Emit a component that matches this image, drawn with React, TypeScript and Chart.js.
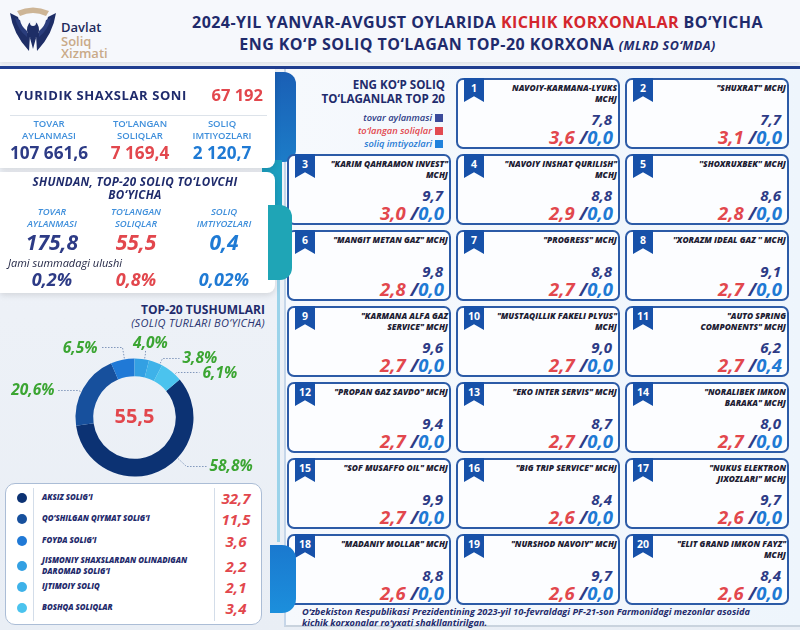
import React, { useEffect, useRef } from "react";
import { Chart, registerables } from "chart.js";

Chart.register(...registerables);

// ---------------- data ----------------
const legalEntitiesCount = 67192;
const summaryLabels = ["TOVAR\nAYLANMASI", "TO‘LANGAN\nSOLIQLAR", "SOLIQ\nIMTIYOZLARI"];
const allTotals = [107661.6, 7169.4, 2120.7];
const top20Totals = [175.8, 55.5, 0.4];
const top20SharePct = [0.2, 0.8, 0.02];

const taxTypeLabels = [
  "AKSIZ SOLIG‘I",
  "QO‘SHILGAN QIYMAT SOLIG‘I",
  "FOYDA SOLIG‘I",
  "JISMONIY SHAXSLARDAN OLINADIGAN\nDAROMAD SOLIG‘I",
  "IJTIMOIY SOLIQ",
  "BOSHQA SOLIQLAR",
];
const taxTypeValues = [32.7, 11.5, 3.6, 2.2, 2.1, 3.4];
const taxTypeShares = [58.8, 20.6, 6.5, 4.0, 3.8, 6.1];

const companyNames = [
  "NAVOIY-KARMANA-LYUKS\nMCHJ",
  "\"SHUXRAT\" MCHJ",
  "\"KARIM QAHRAMON INVEST\"\nMCHJ",
  "\"NAVOIY INSHAT QURILISH\"\nMCHJ",
  "''SHOXRUXBEK'' MCHJ",
  "\"MANGIT METAN GAZ\" MCHJ",
  "\"PROGRESS\" MCHJ",
  "''XORAZM IDEAL GAZ '' MCHJ",
  "\"KARMANA ALFA GAZ\nSERVICE\" MCHJ",
  "\"MUSTAQILLIK FAKELI PLYUS\"\nMCHJ",
  "\"AUTO SPRING\nCOMPONENTS\" MCHJ",
  "\"PROPAN GAZ SAVDO\" MCHJ",
  "\"EKO INTER SERVIS\" MCHJ",
  "\"NORALIBEK IMKON\nBARAKA\" MCHJ",
  "\"SOF MUSAFFO OIL\" MCHJ",
  "\"BIG TRIP SERVICE\" MCHJ",
  "\"NUKUS ELEKTRON\nJIXOZLARI\" MCHJ",
  "\"MADANIY MOLLAR\" MCHJ",
  "\"NURSHOD NAVOIY\" MCHJ",
  "\"ELIT GRAND IMKON FAYZ\"\nMCHJ",
];
const companyTurnover = [7.8, 7.7, 9.7, 8.8, 8.6, 9.8, 8.8, 9.1, 9.6, 9.0, 6.2, 9.4, 8.7, 8.0, 9.9, 8.4, 9.7, 8.8, 9.7, 8.4];
const companyTaxes = [3.6, 3.1, 3.0, 2.9, 2.8, 2.8, 2.7, 2.7, 2.7, 2.7, 2.7, 2.7, 2.7, 2.7, 2.7, 2.6, 2.6, 2.6, 2.6, 2.6];
const companyBenefits = [0, 0, 0, 0, 0, 0, 0, 0, 0, 0, 0.4, 0, 0, 0, 0, 0, 0, 0, 0, 0];

// ---------------- style ----------------
const FONT = "'Open Sans', 'Noto Sans', sans-serif";
const NAVY = "#1f2b6c";
const VAL_NAVY = "#2d3b86";
const RED = "#e2474d";
const BLUE = "#1f7ad4";
const LIGHT_BLUE = "#3f8fdb";
const GREEN = "#3ba532";
const taxColors = ["#0c3273", "#17509d", "#2079d6", "#33a0e3", "#3eb2e9", "#4bc3ee"];

// label layout relative to the donut centre (text pos, elbow, line end)
const donutLabelLayout = [
  { tx: 75, ty: 49, align: "left", ex: 52, ey: 49, lx: 72, ly: 49 },
  { tx: -80, ty: -27, align: "right", ex: -56, ey: -27, lx: -77, ly: -27 },
  { tx: -37, ty: -69, align: "right", ex: -12, ey: -70, lx: -34, ly: -70 },
  { tx: 16, ty: -74, align: "center", ex: 11, ey: -64, lx: 11, ly: -67 },
  { tx: 48, ty: -59, align: "left", ex: 28, ey: -59, lx: 45, ly: -59 },
  { tx: 68, ty: -44, align: "left", ex: 42, ey: -45, lx: 65, ly: -45 },
];

const fmt1 = (v: number) => {
  const [i, d] = v.toFixed(1).split(".");
  return i.replace(/\B(?=(\d{3})+(?!\d))/g, " ") + "," + d;
};
const fmtInt = (v: number) => String(Math.round(v)).replace(/\B(?=(\d{3})+(?!\d))/g, " ");
const fmtPct = (v: number) => String(v).replace(".", ",") + "%";
const fmtPct1 = (v: number) => v.toFixed(1).replace(".", ",") + "%";

const donutPlugin = {
  id: "donutLabels",
  afterDatasetsDraw(chart: any) {
    const ctx = chart.ctx;
    const meta = chart.getDatasetMeta(0);
    const total = taxTypeValues.reduce((a, b) => a + b, 0);
    let cx = 0, cy = 0;
    meta.data.forEach((arc: any, i: number) => {
      const p = arc.getProps(["x", "y", "startAngle", "endAngle", "outerRadius"], true);
      cx = p.x; cy = p.y;
      const lay = donutLabelLayout[i];
      const ex = p.x + lay.ex, ey = p.y + lay.ey;
      let th = Math.atan2(ey - p.y, ex - p.x);
      while (th < p.startAngle) th += Math.PI * 2;
      while (th > p.startAngle + Math.PI * 2) th -= Math.PI * 2;
      if (th > p.endAngle) {
        const dEnd = th - p.endAngle;
        const dStart = p.startAngle + Math.PI * 2 - th;
        th = dEnd < dStart ? p.endAngle - 0.05 : p.startAngle + 0.05;
      }
      const px = p.x + (p.outerRadius + 1) * Math.cos(th);
      const py = p.y + (p.outerRadius + 1) * Math.sin(th);
      ctx.save();
      ctx.setLineDash([1.5, 1.5]);
      ctx.strokeStyle = "#8197bb";
      ctx.lineWidth = 1;
      ctx.beginPath();
      ctx.moveTo(px, py);
      ctx.lineTo(ex, ey);
      ctx.lineTo(p.x + lay.lx, p.y + lay.ly);
      ctx.stroke();
      ctx.restore();
      ctx.save();
      ctx.font = `italic 700 15.5px ${FONT}`;
      ctx.fillStyle = GREEN;
      ctx.textAlign = lay.align;
      ctx.textBaseline = "middle";
      ctx.fillText(fmtPct1(taxTypeShares[i]), p.x + lay.tx, p.y + lay.ty);
      ctx.restore();
    });
    ctx.save();
    ctx.font = `700 20px ${FONT}`;
    ctx.fillStyle = RED;
    ctx.textAlign = "center";
    ctx.textBaseline = "middle";
    ctx.fillText(fmt1(total), cx, cy);
    ctx.restore();
  },
};

function Donut() {
  const ref = useRef<HTMLCanvasElement>(null);
  useEffect(() => {
    const total = taxTypeValues.reduce((a, b) => a + b, 0);
    const tail = taxTypeValues.slice(3).reduce((a, b) => a + b, 0);
    const chart = new Chart(ref.current as HTMLCanvasElement, {
      type: "doughnut",
      data: {
        labels: taxTypeLabels,
        datasets: [{ data: taxTypeValues, backgroundColor: taxColors, borderWidth: 0 }],
      },
      options: {
        responsive: false,
        animation: false,
        rotation: (tail / total) * 360,
        cutout: "70%",
        layout: { padding: { left: 75.5, right: 81.5, top: 28.5, bottom: 5.5 } },
        plugins: { legend: { display: false }, tooltip: { enabled: false }, title: { display: false } },
      },
      plugins: [donutPlugin],
    } as any);
    return () => chart.destroy();
  }, []);
  return <canvas ref={ref} width={275} height={152} style={{ position: "absolute", left: 0, top: 330 }} />;
}

const abs = (left: number, top: number, extra: any = {}) => ({ position: "absolute" as const, left, top, ...extra });

function Card({ i }: { i: number }) {
  const slot = i + 1;
  const row = Math.floor(slot / 3);
  const col = slot % 3;
  const left = [287, 456, 625][col];
  const top = 78 + row * 76;
  return (
    <div
      style={abs(left, top, {
        width: 164,
        height: 71,
        boxSizing: "border-box",
        border: "2px solid #2c5ba7",
        borderRadius: 7,
        background: "#fcfdff",
        zIndex: 2,
      })}
    >
      <div
        style={abs(6, -2, {
          width: 20,
          height: 24,
          background: "#1751a9",
          clipPath: "polygon(0 0,100% 0,100% 100%,50% 76%,0 100%)",
          color: "#fff",
          fontWeight: 700,
          fontSize: 10.5,
          textAlign: "center",
          lineHeight: "20px",
        })}
      >
        {slot}
      </div>
      <div
        style={{
          position: "absolute",
          right: 1,
          top: 2,
          width: 132,
          textAlign: "right",
          fontSize: 8.4,
          fontWeight: 800,
          fontStyle: "italic",
          lineHeight: "11px",
          whiteSpace: "pre-line",
          color: "#1c2033",
        }}
      >
        {companyNames[i]}
      </div>
      <div
        style={{
          position: "absolute",
          right: 6,
          bottom: 21,
          fontSize: 15,
          fontWeight: 700,
          fontStyle: "italic",
          lineHeight: "14px",
          color: VAL_NAVY,
        }}
      >
        {fmt1(companyTurnover[i])}
      </div>
      <div
        style={{
          position: "absolute",
          right: 5,
          bottom: 2,
          fontSize: 18.5,
          fontWeight: 700,
          fontStyle: "italic",
          lineHeight: "17px",
          whiteSpace: "nowrap",
        }}
      >
        <span style={{ color: RED }}>{fmt1(companyTaxes[i])}</span>
        <span style={{ color: VAL_NAVY }}> /</span>
        <span style={{ color: BLUE }}>{fmt1(companyBenefits[i])}</span>
      </div>
    </div>
  );
}

function Logo() {
  return (
    <svg width="50" height="50" viewBox="0 0 50 50" style={abs(8, 4)}>
      <path d="M9 7 Q25 0 41 7 L38 12 Q25 6 12 12 Z" fill="#cdb596" />
      <path d="M2 9 Q5 30 21 47 L22 31 Q12 24 10 13 Z" fill="#1e2e66" />
      <path d="M48 9 Q45 30 29 47 L28 31 Q38 24 40 13 Z" fill="#1e2e66" />
      <path d="M7 14 Q10 26 19 33 L19 27 Q13 22 12 16 Z" fill="#2a3d7c" />
      <path d="M43 14 Q40 26 31 33 L31 27 Q37 22 38 16 Z" fill="#2a3d7c" />
      <ellipse cx="25" cy="26" rx="6" ry="9" fill="#1e2e66" />
      <circle cx="25" cy="19" r="3" fill="#f5f7fb" />
      <path d="M22 34 L25 45 L28 34 Z" fill="#1e2e66" />
    </svg>
  );
}

export default function App() {
  const colCentersTop = [49, 140, 222];
  const colCentersMid = [52, 136, 224];
  const valColors = [VAL_NAVY, RED, BLUE];
  return (
    <div
      style={{
        position: "relative",
        width: 800,
        height: 630,
        overflow: "hidden",
        background: "linear-gradient(180deg,#f1f4f9,#e9eef5)",
        fontFamily: FONT,
      }}
    >
      <style>{`body{margin:0}`}</style>
      {/* header */}
      <div style={abs(0, 0, { width: 800, height: 62, background: "#f6f8fc", boxShadow: "0 2px 4px rgba(0,0,0,0.08)" })} />
      <Logo />
      <div style={abs(61, 21, { fontSize: 13, fontWeight: 600, color: "#1e2b5c", lineHeight: "13px" })}>Davlat</div>
      <div style={abs(61, 35, { fontSize: 13, fontWeight: 600, color: "#c9aa88", lineHeight: "12px" })}>Soliq</div>
      <div style={abs(61, 47, { fontSize: 13, fontWeight: 600, color: "#c9aa88", lineHeight: "13px" })}>Xizmati</div>
      <div
        style={abs(170, 11, {
          width: 615,
          textAlign: "center",
          fontSize: 16,
          letterSpacing: "0.45px",
          fontWeight: 700,
          color: NAVY,
          lineHeight: "22px",
          whiteSpace: "nowrap",
        })}
      >
        <div>
          2024-YIL YANVAR-AVGUST OYLARIDA <span style={{ color: "#d4262d" }}>KICHIK KORXONALAR</span> BO‘YICHA
        </div>
        <div>
          ENG KO‘P SOLIQ TO‘LAGAN TOP-20 KORXONA{" "}
          <span style={{ fontStyle: "italic", fontSize: 12.5 }}>(MLRD SO‘MDA)</span>
        </div>
      </div>

      {/* right panel */}
      <div
        style={abs(284, 68, {
          width: 516,
          height: 559,
          background: "linear-gradient(90deg,#f6f9fd,#eef5fc)",
          borderLeft: "2px solid #c6d6e9",
          borderBottom: "2px solid #c9d3de",
          boxSizing: "border-box",
        })}
      />
      <div style={abs(0, 66, { width: 800, height: 3, background: "#1f3d8f", zIndex: 3 })} />
      {/* decorative tabs */}
      <div style={abs(262, 72, { width: 34, height: 90, background: "linear-gradient(180deg,#1a5fb5,#1c7cc8)", borderRadius: "0 12px 12px 0", zIndex: 1 })} />
      <div style={abs(262, 160, { width: 20, height: 48, background: "#1c9fbf", zIndex: 1 })} />
      <div style={abs(268, 205, { width: 24, height: 75, background: "#1fa5b6", borderRadius: "0 12px 12px 0", zIndex: 3 })} />
      <div style={abs(277, 280, { width: 3, height: 262, background: "#9bd3ea", zIndex: 1 })} />
      <div style={abs(270, 545, { width: 26, height: 68, background: "linear-gradient(180deg,#1a79cf,#1c8fdc)", borderRadius: "0 14px 14px 0", zIndex: 3 })} />

      {/* right panel header & legend */}
      <div style={abs(290, 78, { width: 155, textAlign: "right", fontSize: 11.6, fontWeight: 700, color: NAVY, lineHeight: "14px", zIndex: 2 })}>
        ENG KO‘P SOLIQ
        <br />
        TO‘LAGANLAR TOP 20
      </div>
      {[
        ["tovar aylanmasi", VAL_NAVY, "#3a4a9a"],
        ["to‘langan soliqlar", RED, "#e24a50"],
        ["soliq imtiyozlari", BLUE, "#1f82dc"],
      ].map(([t, c, sq], k) => (
        <div key={k} style={abs(310, 112 + k * 13, { width: 134, height: 12, zIndex: 2 })}>
          <div
            style={{
              position: "absolute",
              right: 12,
              top: 0,
              fontSize: 9.3,
              fontStyle: "italic",
              fontWeight: 600,
              color: c,
              lineHeight: "12px",
              whiteSpace: "nowrap",
            }}
          >
            {t}
          </div>
          <div style={{ position: "absolute", right: 1, top: 2, width: 8, height: 8, background: sq }} />
        </div>
      ))}

      {companyNames.map((_, i) => (
        <Card key={i} i={i} />
      ))}

      <div
        style={abs(302, 607, {
          fontSize: 9.2,
          fontStyle: "italic",
          fontWeight: 700,
          color: NAVY,
          lineHeight: "10.5px",
          whiteSpace: "nowrap",
          zIndex: 2,
        })}
      >
        O‘zbekiston Respublikasi Prezidentining 2023-yil 10-fevraldagi PF-21-son Farmonidagi mezonlar asosida
        <br />
        kichik korxonalar ro‘yxati shakllantirilgan.
      </div>

      {/* left card 1 */}
      <div
        style={abs(0, 68, {
          width: 275,
          height: 100,
          background: "#ffffff",
          borderRadius: "0 0 8px 0",
          boxShadow: "0 2px 6px rgba(0,0,0,0.12)",
          zIndex: 2,
        })}
      >
        <div style={abs(15, 19, { fontSize: 13, letterSpacing: "0.6px", fontWeight: 700, color: NAVY, lineHeight: "16px", whiteSpace: "nowrap" })}>
          YURIDIK SHAXSLAR SONI
        </div>
        <div style={abs(200, 17, { width: 63, textAlign: "right", fontSize: 16.5, fontWeight: 700, color: RED, lineHeight: "20px" })}>
          {fmtInt(legalEntitiesCount)}
        </div>
        <div style={abs(10, 47, { width: 257, height: 1, background: "#dde3ea" })} />
        {summaryLabels.map((l, k) => (
          <div
            key={k}
            style={abs(colCentersTop[k] - 50, 50, {
              width: 100,
              textAlign: "center",
              fontSize: 9.5,
              fontWeight: 600,
              color: LIGHT_BLUE,
              lineHeight: "12px",
              whiteSpace: "pre-line",
            })}
          >
            {l}
          </div>
        ))}
        {allTotals.map((v, k) => (
          <div
            key={k}
            style={abs(colCentersTop[k] - 60, 74, {
              width: 120,
              textAlign: "center",
              fontSize: 17.2,
              fontWeight: 700,
              color: valColors[k],
              lineHeight: "22px",
            })}
          >
            {fmt1(v)}
          </div>
        ))}
      </div>

      {/* left card 2 */}
      <div
        style={abs(0, 172, {
          width: 275,
          height: 121,
          background: "#ffffff",
          borderRadius: "0 8px 8px 0",
          boxShadow: "0 2px 6px rgba(0,0,0,0.12)",
          zIndex: 2,
        })}
      >
        <div
          style={abs(0, 3, {
            width: 270,
            textAlign: "center",
            fontSize: 11.6,
            letterSpacing: "0.3px",
            fontWeight: 700,
            fontStyle: "italic",
            color: NAVY,
            lineHeight: "13px",
            whiteSpace: "nowrap",
          })}
        >
          SHUNDAN, TOP-20 SOLIQ TO‘LOVCHI
          <br />
          BO‘YICHA
        </div>
        {summaryLabels.map((l, k) => (
          <div
            key={k}
            style={abs(colCentersMid[k] - 50, 34, {
              width: 100,
              textAlign: "center",
              fontSize: 9.5,
              fontWeight: 600,
              fontStyle: "italic",
              color: LIGHT_BLUE,
              lineHeight: "11.5px",
              whiteSpace: "pre-line",
            })}
          >
            {l}
          </div>
        ))}
        {top20Totals.map((v, k) => (
          <div
            key={k}
            style={abs(colCentersMid[k] - 50, 58, {
              width: 100,
              textAlign: "center",
              fontSize: 21,
              fontWeight: 700,
              fontStyle: "italic",
              color: valColors[k],
              lineHeight: "24px",
            })}
          >
            {fmt1(v)}
          </div>
        ))}
        <div style={abs(8, 84, { fontSize: 11, fontStyle: "italic", color: "#1d2140", lineHeight: "13px", whiteSpace: "nowrap" })}>
          Jami summadagi ulushi
        </div>
        {top20SharePct.map((v, k) => (
          <div
            key={k}
            style={abs(colCentersMid[k] - 50, 97, {
              width: 100,
              textAlign: "center",
              fontSize: 18,
              fontWeight: 700,
              fontStyle: "italic",
              color: valColors[k],
              lineHeight: "20px",
            })}
          >
            {fmtPct(v)}
          </div>
        ))}
      </div>

      {/* donut block */}
      <div style={abs(90, 303, { width: 175, textAlign: "right", fontSize: 12, fontWeight: 700, color: NAVY, lineHeight: "14px", whiteSpace: "nowrap" })}>
        TOP-20 TUSHUMLARI
      </div>
      <div
        style={abs(90, 317, {
          width: 175,
          textAlign: "right",
          fontSize: 11,
          letterSpacing: "0.3px",
          fontStyle: "italic",
          color: "#2a3470",
          lineHeight: "12px",
          whiteSpace: "nowrap",
        })}
      >
        (SOLIQ TURLARI BO‘YICHA)
      </div>
      <Donut />

      {/* legend box */}
      <div
        style={abs(5, 483, {
          width: 257,
          height: 142,
          boxSizing: "border-box",
          border: "1.5px solid #abbdd6",
          borderRadius: 10,
          background: "#ffffff",
        })}
      />
      <div style={abs(33, 488, { width: 1, height: 133, background: "#d3dde9" })} />
      <div style={abs(214, 488, { width: 1, height: 133, background: "#d3dde9" })} />
      {taxTypeLabels.map((l, k) => {
        const cy = [498, 519, 541, 566, 587, 608][k];
        return (
          <React.Fragment key={k}>
            <div style={abs(17, cy - 5, { width: 10, height: 10, borderRadius: 5, background: taxColors[k] })} />
            <div
              style={abs(42, cy - (k === 3 ? 11 : 6), {
                fontSize: 7.8,
                fontWeight: 800,
                fontStyle: "italic",
                color: NAVY,
                lineHeight: "11px",
                whiteSpace: "pre-line",
              })}
            >
              {l}
            </div>
            <div
              style={abs(216, cy - 10, {
                width: 40,
                textAlign: "center",
                fontSize: 15,
                fontWeight: 700,
                fontStyle: "italic",
                color: RED,
                lineHeight: "20px",
              })}
            >
              {fmt1(taxTypeValues[k])}
            </div>
          </React.Fragment>
        );
      })}
    </div>
  );
}
